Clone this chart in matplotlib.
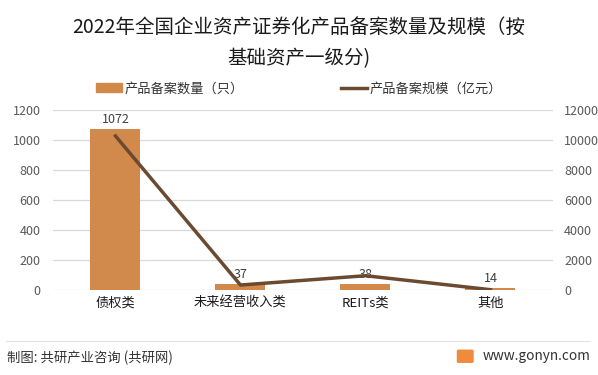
import matplotlib.pyplot as plt
import numpy as np
from matplotlib.patches import FancyBboxPatch
from matplotlib.lines import Line2D

plt.rcParams['font.family'] = ['Noto Sans CJK SC', 'DejaVu Sans']

# data
categories = ["债权类", "未来经营收入类", "REITs类", "其他"]
counts = [1072, 37, 38, 14]          # 产品备案数量（只）
scale = [10250, 330, 950, 20]        # 产品备案规模（亿元）

bar_color = "#D28A4C"
line_color = "#6B4A30"
grid_color = "#D9D9D9"

fig = plt.figure(figsize=(5.98, 3.75), dpi=100)
ax = fig.add_axes([0.0886, 0.2267, 0.8361, 0.4808])
ax2 = ax.twinx()

x = np.arange(len(categories))
ax.bar(x, counts, 0.4, color=bar_color, zorder=2)
for xi, v in zip(x, counts):
    ax.text(xi, v + 22, str(v), ha="center", va="bottom", fontsize=9, color="#404040")

ax.set_xlim(-0.5, len(categories) - 0.5)
ax.set_ylim(0, 1200)
ax.set_yticks(range(0, 1201, 200))
ax2.set_ylim(0, 12000)
ax2.set_yticks(range(0, 12001, 2000))
# line belongs to right axis; drawn on the left axes (scaled) so it sits above the bars
ax.plot(x, np.array(scale) * 1200 / 12000, color=line_color, linewidth=2.5, zorder=3)

ax.set_xticks(x)
ax.set_xticklabels(categories, fontsize=9.5, color="#1a1a1a")
ax.tick_params(axis="y", labelsize=9, labelcolor="#595959", length=0, pad=9)
ax2.tick_params(axis="y", labelsize=9, labelcolor="#595959", length=0, pad=8)
ax.tick_params(axis="x", length=0, pad=5)
for a in (ax, ax2):
    for s in a.spines.values():
        s.set_visible(False)
ax.set_axisbelow(True)
ax.grid(axis="y", color=grid_color, linewidth=0.9, zorder=0)
ax.set_zorder(ax2.get_zorder() + 1)
ax.patch.set_visible(False)

# title
fig.text(0.5, 0.928, "2022年全国企业资产证券化产品备案数量及规模（按", ha="center", va="center",
         fontsize=14, color="#1a1a1a")
fig.text(0.5, 0.845, "基础资产一级分)", ha="center", va="center", fontsize=14, color="#1a1a1a")

# legend
handles = [plt.Rectangle((0, 0), 1, 1, color=bar_color),
           Line2D([0], [0], color=line_color, linewidth=2.5)]
fig.legend(handles, ["产品备案数量（只）", "产品备案规模（亿元）"], loc="center",
           bbox_to_anchor=(0.5, 0.763), ncol=2, frameon=False, fontsize=9.5,
           handlelength=2.0, handletextpad=0.2, columnspacing=7.3, labelcolor="#333333")

# footer
fig.add_artist(Line2D([0.01, 0.987], [0.091, 0.091], color="#E3E3E3", linewidth=0.8))
fig.text(0.012, 0.045, "制图: 共研产业咨询 (共研网)", ha="left", va="center", fontsize=9.6, color="#333333")
fig.text(0.988, 0.050, "www.gonyn.com", ha="right", va="center", fontsize=9.8, color="#333333")
fig.add_artist(FancyBboxPatch((0.767, 0.036), 0.022, 0.028, boxstyle="round,pad=0.002",
                              transform=fig.transFigure, color="#F08A3C"))

fig.savefig("out.png", dpi=100)
